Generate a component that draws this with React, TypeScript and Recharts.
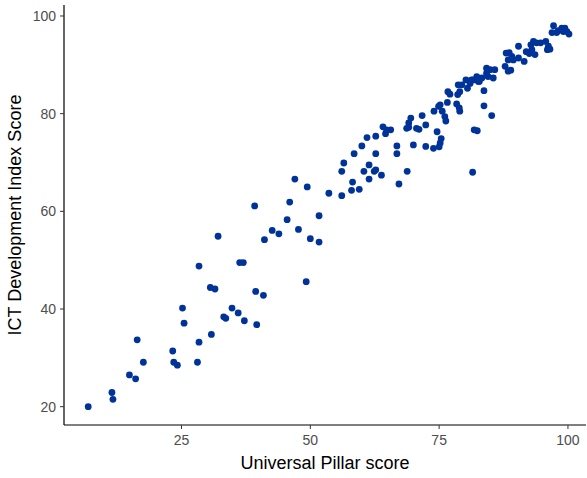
import React from 'react';
import { ScatterChart, Scatter, XAxis, YAxis } from 'recharts';

const universalPillar = [
  6.9, 11.5, 11.7, 14.9, 16.1, 16.4, 17.6, 23.3, 23.5, 24.2,
  25.2, 25.5, 28.4, 28.4, 28.1, 30.8, 30.6, 31.5, 32.1, 33.2,
  33.6, 34.8, 36.0, 37.2, 36.3, 37.0, 39.4, 40.9, 39.6, 41.1,
  42.6, 43.9, 39.2, 45.5, 46.0, 47.0, 47.7, 49.2, 49.4, 50.0,
  51.7, 51.7, 53.6, 56.1, 56.1, 56.5, 58.0, 58.2, 59.5, 58.5,
  60.0, 61.0, 62.7, 62.7, 61.4, 60.4, 62.4, 62.7, 61.4, 63.8,
  64.1, 64.8, 65.6, 64.6, 66.8, 66.8, 67.2, 68.8, 70.0, 69.5,
  69.1, 68.7, 69.1, 70.6, 71.1, 71.7, 72.4, 72.4, 73.9, 74.6,
  75.2, 75.4, 75.0, 74.0, 74.9, 75.2, 75.6, 76.1, 76.3, 76.7,
  77.1, 76.6, 78.4, 78.9, 79.0, 78.6, 79.0, 79.4, 78.7, 80.2,
  80.5, 81.0, 81.6, 82.3, 82.8, 83.3, 84.2, 84.9, 84.2, 85.8,
  85.5, 84.5, 83.7, 83.7, 85.2, 81.8, 82.4, 81.5, 87.8, 88.4,
  88.0, 88.6, 89.1, 88.4, 89.4, 88.9, 90.4, 90.4, 91.5, 91.9,
  92.5, 93.6, 93.0, 92.8, 93.3, 93.9, 94.7, 95.7, 96.2, 96.5,
  96.0, 97.2, 96.9, 97.8, 98.8, 99.4, 99.8, 100.2, 99.1, 98.1,
  81.3, 82.6,
];

const ictScore = [
  20.0, 22.9, 21.5, 26.5, 25.7, 33.7, 29.1, 31.4, 29.1, 28.5,
  40.2, 37.1, 48.8, 33.2, 29.1, 34.8, 44.4, 44.1, 54.9, 38.4,
  38.1, 40.2, 39.2, 37.6, 49.5, 49.5, 43.6, 42.8, 36.8, 54.2,
  56.1, 55.4, 61.1, 58.3, 61.9, 66.6, 56.3, 45.6, 65.0, 54.4,
  59.1, 53.7, 63.7, 63.2, 68.2, 69.9, 64.3, 66.0, 64.5, 71.8,
  73.4, 75.1, 75.4, 71.8, 69.5, 68.2, 68.2, 68.5, 66.6, 67.4,
  77.3, 76.7, 76.7, 75.9, 73.4, 71.8, 65.6, 68.2, 73.6, 79.1,
  78.1, 77.0, 77.2, 77.0, 76.8, 79.6, 77.7, 73.3, 72.9, 76.3,
  74.0, 74.9, 73.2, 80.5, 81.5, 81.8, 80.5, 79.4, 78.5, 84.5,
  84.0, 82.3, 82.0, 81.2, 80.5, 83.9, 84.5, 85.9, 85.9, 86.9,
  85.2, 86.2, 86.9, 87.6, 86.6, 87.3, 88.3, 89.0, 89.3, 89.0,
  87.3, 87.6, 84.7, 81.6, 79.6, 76.7, 76.5, 68.0, 89.7, 88.7,
  92.4, 92.5, 91.7, 91.0, 91.0, 88.9, 93.8, 91.4, 90.7, 92.7,
  92.3, 92.1, 93.1, 94.1, 94.8, 94.5, 94.5, 94.8, 93.8, 93.2,
  93.1, 98.0, 96.6, 96.6, 97.5, 97.5, 96.8, 96.3, 96.8, 97.0,
  86.9, 86.6,
];

const xTicks = [25, 50, 75, 100];
const yTicks = [20, 40, 60, 80, 100];

const data = universalPillar.map((x, i) => ({ x, y: ictScore[i] }));

const FONT = 'Liberation Sans, Arial, sans-serif';
const tickStyle = { fill: '#4D4D4D', fontSize: 14, fontFamily: FONT };

export default function App() {
  return (
    <div style={{ position: 'absolute', left: 0, top: 0, width: 587, height: 478, background: '#fff' }}>
      <ScatterChart width={587} height={478} margin={{ top: 5, right: 1, bottom: 0, left: 0 }}>
        <XAxis
          type="number"
          dataKey="x"
          domain={[2.2, 103.5]}
          ticks={xTicks}
          allowDataOverflow
          height={53}
          tick={tickStyle}
          tickSize={4}
          tickMargin={6}
          axisLine={{ stroke: '#000', strokeWidth: 1.2 }}
          tickLine={{ stroke: '#333' }}
          label={{
            value: 'Universal Pillar score',
            position: 'insideBottom',
            offset: 9,
            style: { fill: '#000', fontSize: 18, fontFamily: FONT },
          }}
        />
        <YAxis
          type="number"
          dataKey="y"
          domain={[16.25, 102.25]}
          ticks={yTicks}
          allowDataOverflow
          width={64}
          tick={tickStyle}
          tickSize={4}
          tickMargin={4}
          axisLine={{ stroke: '#000', strokeWidth: 1.2 }}
          tickLine={{ stroke: '#333' }}
          label={{
            value: 'ICT Development Index Score',
            angle: -90,
            position: 'insideLeft',
            offset: 15,
            style: { textAnchor: 'middle', fill: '#000', fontSize: 18, fontFamily: FONT },
          }}
        />
        <Scatter
          data={data}
          fill="#003399"
          isAnimationActive={false}
          shape={(props: any) => <circle cx={props.cx} cy={props.cy} r={3.4} fill="#003399" />}
        />
      </ScatterChart>
    </div>
  );
}
